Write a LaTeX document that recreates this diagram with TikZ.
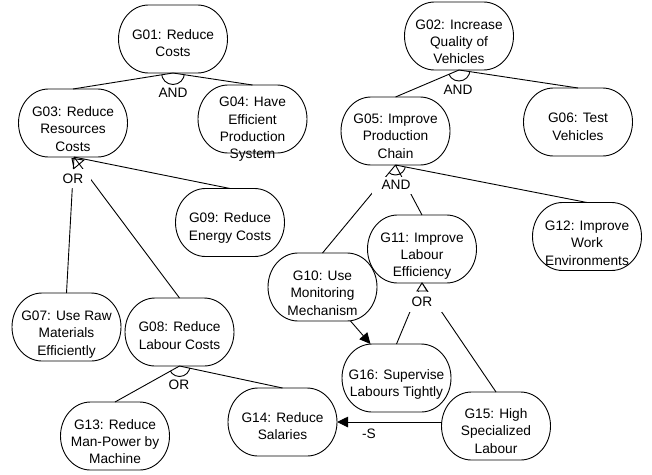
\documentclass[tikz,border=0pt]{standalone}
\usepackage{fontspec}
\setmainfont{Liberation Sans}
\usetikzlibrary{arrows.meta,calc}

\tikzset{
  goalbox/.style={minimum width=109pt, minimum height=68pt, inner sep=0pt, outer sep=0pt},
  goalline/.style={draw=black, line width=0.9pt},
  goaltext/.style={align=center, inner sep=0pt, font=\fontsize{13.7pt}{17.3pt}\selectfont},
  link/.style={draw=black, line width=0.9pt},
  reflabel/.style={font=\fontsize{13.7pt}{16pt}\selectfont, inner sep=0pt, fill=white},
  deco/.style={draw=black, line width=0.9pt},
  contrib/.style={draw=black, line width=0.9pt, -{Triangle[length=11pt,width=10.5pt]}},
}

% goal: name, centre x, centre y, text y, text
\newcommand\goal[5]{%
  \node[goalbox] (#1) at (#2,#3) {};
  \draw[goalline, shift={(#2,#3)}] (-24.5,-34) -- (24.5,-34)
    .. controls (41.07,-34) and (54.5,-18.8) .. (54.5,0)
    .. controls (54.5,18.8) and (41.07,34) .. (24.5,34) -- (-24.5,34)
    .. controls (-41.07,34) and (-54.5,18.8) .. (-54.5,0)
    .. controls (-54.5,-18.8) and (-41.07,-34) .. (-24.5,-34) -- cycle;
  \node[goaltext] (#1t) at (#2,#4) {#5};
}

\begin{document}
\begin{tikzpicture}[x=1pt, y=-1pt]
\useasboundingbox (0,0) rectangle (652,474);

% goals
\goal{g01}{173}{39}{43.3}{G01: Reduce\\Costs}
\goal{g02}{459}{36}{41.7}{G02: Increase\\Quality of\\Vehicles}
\goal{g03}{73}{123}{129}{G03: Reduce\\Resources\\Costs}
\goal{g04}{252.5}{119}{129.5}{G04: Have\\Efficient\\Production\\System}
\goal{g05}{395.5}{131}{136}{G05: Improve\\Production\\Chain}
\goal{g06}{578}{122}{126.7}{G06: Test\\Vehicles}
\goal{g07}{66.5}{327}{334.5}{G07: Use Raw\\Materials\\Efficiently}
\goal{g08}{179.5}{332}{335.5}{G08: Reduce\\Labour Costs}
\goal{g09}{230}{222.5}{228}{G09: Reduce\\Energy Costs}
\goal{g10}{322.5}{287}{293}{G10: Use\\Monitoring\\Mechanism}
\goal{g11}{422}{249}{256}{G11: Improve\\Labour\\Efficiency}
\goal{g12}{587}{236.5}{243}{G12: Improve\\Work\\Environments}
\goal{g13}{115}{436}{441.7}{G13: Reduce\\Man-Power by\\Machine}
\goal{g14}{282.5}{422}{426}{G14: Reduce\\Salaries}
\goal{g15}{496}{426}{431}{G15: High\\Specialized\\Labour}
\goal{g16}{396.5}{378}{384.5}{G16: Supervise\\Labours Tightly}

% refinement junctions
\coordinate (j01) at (g01.south);
\coordinate (j02) at (g02.south);
\coordinate (j03) at ([xshift=1pt]g03.south);
\coordinate (j05) at (g05.south);
\coordinate (j08) at (g08.south);
\coordinate (j11) at (g11.south);

% refinement links
\draw[link] (j01) -- (g03.north) (j01) -- (g04.north);
\draw[link] (j02) -- (g05.north) (j02) -- (g06.north);
\draw[link] (j03) -- (g07.north) (j03) -- (g08.north) (j03) -- (g09.north);
\draw[link] (j05) -- (g10.north) (j05) -- (g11.north) (j05) -- (g12.north);
\draw[link] (j08) -- (g13.north) (j08) -- (g14.north);
\draw[link] (j11) -- (g16.north) (j11) -- (g15.north);

% refinement labels
\node[reflabel] (and01) at (173,93) {AND};
\node[reflabel] (and02) at (458,90) {AND};
\node[reflabel, minimum width=36pt, minimum height=19pt] (or03) at (73,178.5) {OR};
\node[reflabel, minimum width=48pt, minimum height=17pt] (and05) at (396,185) {AND};
\node[reflabel] (or08) at (179,385) {OR};
\node[reflabel, minimum width=40pt, minimum height=20pt] (or11) at (422,302) {OR};

% arcs across the refined links
\begin{scope}
  \clip (j01) -- ($(j01)!2!(g03.north)$) -- ($(j01)!2!(g04.north)$) -- cycle;
  \draw[deco] (j01) circle[radius=11.5pt];
\end{scope}
\begin{scope}
  \clip (j02) -- ($(j02)!2!(g05.north)$) -- ($(j02)!2!(g06.north)$) -- cycle;
  \draw[deco] (j02) circle[radius=11pt];
\end{scope}
\begin{scope}
  \clip (j05) -- ($(j05)!2!(g10.north)$) -- ($(j05)!2!(g12.north)$) -- cycle;
  \draw[deco] (j05) circle[radius=10pt];
\end{scope}
\begin{scope}
  \clip (j08) -- ($(j08)!2!(g13.north)$) -- ($(j08)!2!(g14.north)$) -- cycle;
  \draw[deco] (j08) circle[radius=10.5pt];
\end{scope}

% triangles
\draw[deco] (j03) ++(-2,1.5) -- ++(2,10) -- ++(10,-8.5) -- cycle;
\draw[deco, fill=white] (j11) -- ++(-5,8) -- ++(10,0) -- cycle;

% contribution links
\draw[contrib] ([xshift=28pt]g10.south) -- ([xshift=-26pt]g16.north);
\draw[contrib] (g15.west |- g14.east) -- (g14.east);
\node[reflabel, fill=none] (negs) at (369,434) {-S};
\end{tikzpicture}
\end{document}
